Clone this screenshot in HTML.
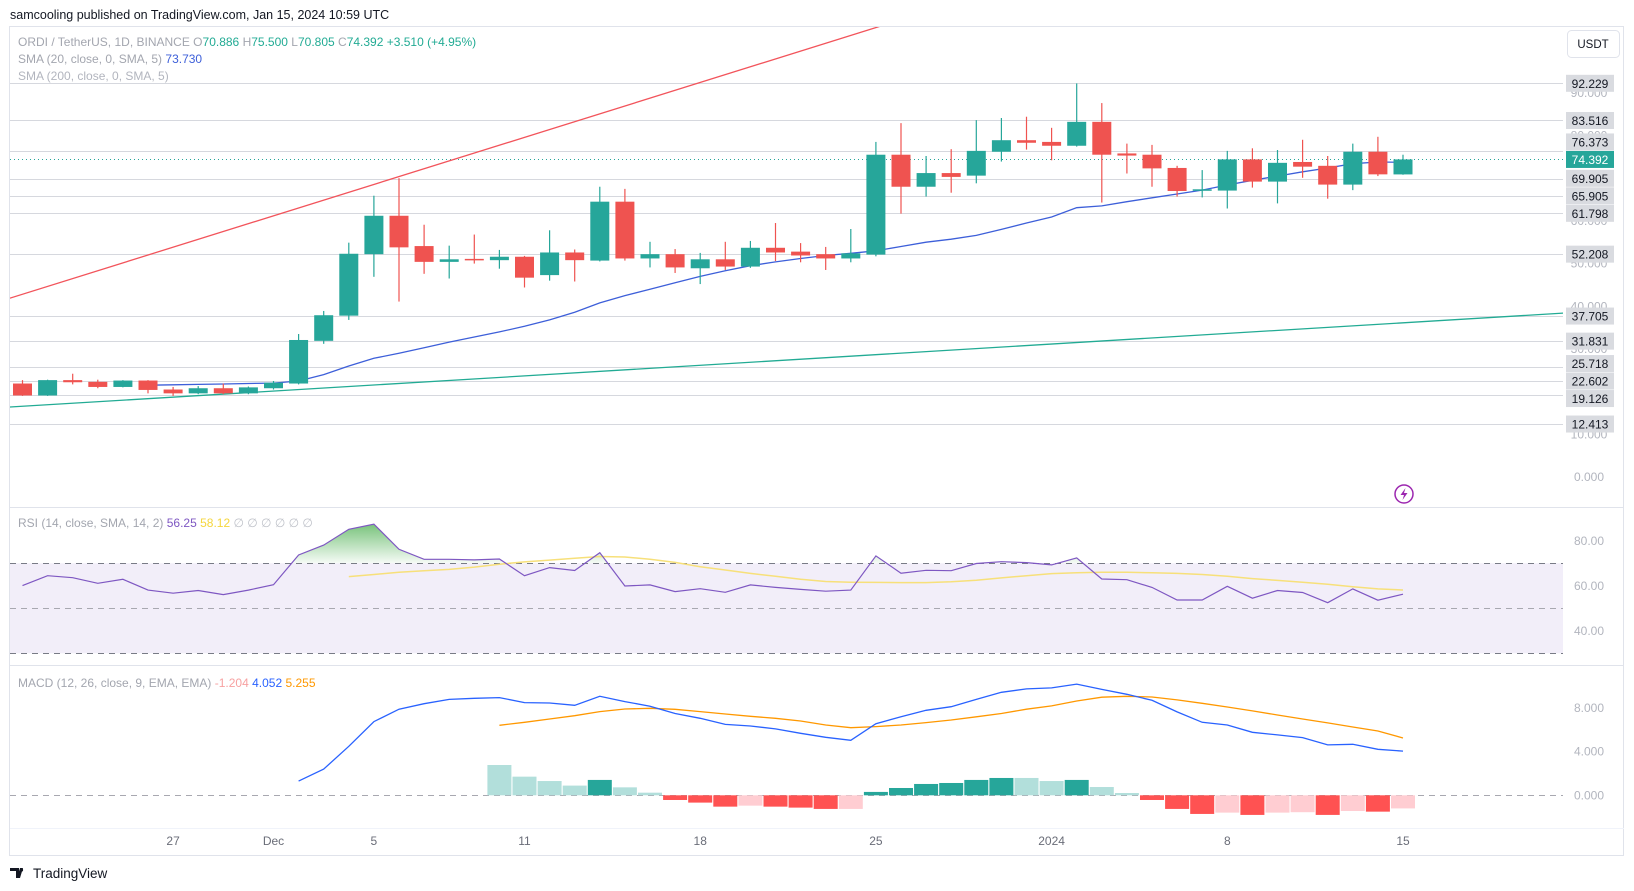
<!DOCTYPE html>
<html><head><meta charset="utf-8">
<style>
html,body{margin:0;padding:0;background:#fff;}
svg{display:block;font-family:"Liberation Sans",Arial,sans-serif;}
</style></head>
<body>
<svg id="chart" width="1634" height="891" viewBox="0 0 1634 891" xmlns="http://www.w3.org/2000/svg">
  <defs>
    <clipPath id="mainClip"><rect x="10" y="27" width="1553" height="480"/></clipPath>
    <clipPath id="rsiClip"><rect x="10" y="508" width="1553" height="157"/></clipPath>
    <clipPath id="macdClip"><rect x="10" y="666" width="1553" height="162"/></clipPath>
    <linearGradient id="obGrad" x1="0" y1="0" x2="0" y2="1">
      <stop offset="0" stop-color="#4caf50" stop-opacity="0.75"/>
      <stop offset="1" stop-color="#4caf50" stop-opacity="0.05"/>
    </linearGradient>
  </defs>
  <text x="10" y="19" font-size="12.5" fill="#131722">samcooling published on TradingView.com, Jan 15, 2024 10:59 UTC</text>
  <rect x="9.5" y="26.5" width="1614" height="829" fill="#fff" stroke="#e0e3eb"/>
  <rect x="10" y="508" width="1553" height="157" fill="#fff"/>
  <line x1="10" y1="507.5" x2="1624" y2="507.5" stroke="#e0e3eb"/>
  <line x1="10" y1="665.5" x2="1624" y2="665.5" stroke="#e0e3eb"/>
  <line x1="10" y1="828.5" x2="1624" y2="828.5" stroke="#f0f3fa"/>
  <g id="gMain"></g>
  <g id="gRsi"></g>
  <g id="gMacd"></g>
  <g id="gAxis"></g>
  <text x="18" y="46" font-size="12" fill="#a3a6af">ORDI / TetherUS, 1D, BINANCE  <tspan fill="#a3a6af">O</tspan><tspan fill="#22ab94">70.886</tspan>  <tspan fill="#a3a6af">H</tspan><tspan fill="#22ab94">75.500</tspan>  <tspan fill="#a3a6af">L</tspan><tspan fill="#22ab94">70.805</tspan>  <tspan fill="#a3a6af">C</tspan><tspan fill="#22ab94">74.392  +3.510 (+4.95%)</tspan></text>
  <text x="18" y="63" font-size="12" fill="#a3a6af">SMA (20, close, 0, SMA, 5)  <tspan fill="#3d5fd9">73.730</tspan></text>
  <text x="18" y="80" font-size="12" fill="#b2b5be">SMA (200, close, 0, SMA, 5)</text>
  <text x="18" y="527" font-size="12" fill="#a3a6af">RSI (14, close, SMA, 14, 2)  <tspan fill="#7e57c2">56.25</tspan>  <tspan fill="#f5d63d">58.12</tspan>  <tspan fill="#c0c3ca">∅  ∅  ∅  ∅  ∅  ∅</tspan></text>
  <text x="18" y="687" font-size="12" fill="#a3a6af">MACD (12, 26, close, 9, EMA, EMA)  <tspan fill="#f7a1a1">-1.204</tspan>  <tspan fill="#2962ff">4.052</tspan>  <tspan fill="#ff9800">5.255</tspan></text>
  <g>
    <rect x="1567.5" y="30.5" width="52" height="27" rx="4" fill="#fff" stroke="#e0e3eb"/>
    <text x="1593" y="48" font-size="11.5" fill="#131722" text-anchor="middle">USDT</text>
  </g>
  <g>
    <circle cx="1404" cy="494" r="9" fill="#fff" stroke="#9c27b0" stroke-width="1.5"/>
    <path d="M1405.5 488 L1400.5 495 L1404 495 L1402.5 500 L1407.5 493 L1404 493 Z" fill="#9c27b0"/>
  </g>
  <g>
    <path d="M10 868 h9 v10 h-3 v-7 h-6 z M20 868 h3 l-3 10 h-3 z" fill="#131722"/>
    <circle cx="21.5" cy="870" r="1.6" fill="#131722"/>
    <text x="33" y="878" font-size="13.5" fill="#131722">TradingView</text>
  </g>
</svg>
<script>
// ---------- data ----------
const dayLabels = ["27","Dec","5","11","18","25","2024","8","15"];
const dayLabelIdx = [6,10,14,20,27,34,41,48,55];
const opens  = [21.9,19.1,22.7,22.3,21.1,22.6,20.5,19.6,20.8,19.6,20.8,21.9,31.9,37.8,52.2,61.2,54.1,50.4,51.1,50.8,51.6,47.3,52.6,50.7,64.5,51.2,52.2,48.9,51.0,49.3,53.7,52.8,52.2,51.2,52.1,75.5,68.0,71.2,70.6,76.2,78.9,78.5,77.6,83.2,75.8,75.5,72.4,67.2,67.1,74.4,69.2,73.8,72.9,68.5,76.2,70.886];
const highs  = [22.7,22.8,24.2,22.8,22.7,22.7,21.1,21.3,21.9,21.2,22.5,33.5,38.9,54.9,65.9,70.0,59.1,54.2,56.8,53.2,51.8,57.8,53.3,68.0,67.5,55.1,53.4,52.5,55.1,55.3,59.5,54.8,53.9,58.1,78.5,82.9,75.2,76.8,83.6,84.1,84.4,81.8,92.2,87.6,78.1,77.8,72.9,71.9,76.4,77.0,76.6,79.0,75.2,78.1,79.7,75.5];
const lows   = [19.0,19.0,21.7,20.8,21.0,19.6,19.0,19.4,19.4,19.4,20.5,21.7,31.2,36.8,46.9,41.1,47.6,46.5,50.0,48.8,44.4,46.0,45.8,50.5,50.7,49.1,47.8,45.2,48.5,49.0,50.6,50.3,48.5,50.3,51.7,61.7,65.7,66.6,68.8,73.9,76.7,74.2,77.4,64.3,71.1,68.0,65.7,65.5,62.9,67.8,64.1,70.1,65.2,67.2,70.5,70.805];
const closes = [19.1,22.7,22.2,21.1,22.6,20.4,19.6,20.8,19.6,21.0,22.1,32.1,37.9,52.3,61.2,53.8,50.4,51.0,50.8,51.6,46.7,52.6,50.8,64.5,51.2,52.2,49.1,51.0,49.3,53.7,52.6,51.9,51.2,52.4,75.5,68.0,71.2,70.3,76.4,78.9,78.3,77.6,83.2,75.5,75.3,72.3,67.0,67.4,74.4,69.2,73.6,72.7,68.5,76.2,70.9,74.392];
const smaStart = 5;
const sma20 = [21.5,21.6,21.7,21.8,21.9,22.0,22.5,24.0,26.0,27.8,29.0,30.3,31.6,32.8,34.0,35.3,36.8,38.6,40.8,42.5,44.0,45.5,47.0,48.3,49.5,50.4,51.2,51.9,52.4,53.0,54.0,55.0,55.7,56.6,58.0,59.5,60.9,63.1,63.5,64.5,65.4,66.3,67.2,68.4,69.5,70.5,71.5,72.4,73.4,73.8,73.73];
const levelPrices = [92.229,83.516,76.373,69.905,65.905,61.798,52.208,37.705,31.831,25.718,22.602,19.126,12.413];
const priceTicks = [90,80,60,50,40,30,10,0];
const lastPrice = 74.392;
const redTrendIdx = [-0.5,34.2];
const redTrendPrice = [41.9,105.65];
const greenTrendIdx = [-0.5,61.4];
const greenTrendPrice = [16.4,38.4];
const rsi = [60.1,64.5,63.6,61.1,62.9,58.1,56.7,57.9,56.1,58.1,60.5,73.7,78.1,85.1,87.4,76.2,71.8,71.8,71.5,71.9,64.5,68.1,66.8,74.7,59.9,60.4,57.4,58.7,57.1,60.4,59.3,58.4,57.6,58.1,73.3,65.6,66.9,66.7,69.9,70.7,70.3,69.3,72.4,63.0,62.7,59.3,53.7,53.7,59.8,54.5,57.9,57.0,52.5,58.6,53.6,56.25];
const rsiSmaStart = 13;
const rsiSma = [64.1,65,66,66.7,67.3,68.3,69.6,70.6,71.4,72.2,73,72.8,71.8,70.4,68.5,67,65.5,64.2,62.9,61.9,61.6,61.5,61.4,61.4,61.8,62.5,63.5,64.5,65.4,65.8,66,66,65.8,65.5,65,64.2,63.2,62.4,61.6,60.7,59.6,58.6,58.12];
const rsiTicks = [80,60,40];
const rsiBands = [70,50,30];
const macdStart = 11;
const macdLine = [1.3,2.4,4.5,6.76,7.9,8.4,8.8,8.9,8.96,8.5,8.47,8.26,9.08,8.6,8.17,7.5,7.06,6.5,6.36,6.09,5.69,5.32,5.05,6.57,7.2,7.8,8.13,8.8,9.45,9.76,9.85,10.2,9.72,9.27,8.72,7.65,6.7,6.45,5.78,5.54,5.29,4.62,4.68,4.22,4.052];
const signalStart = 19;
const signalLine = [6.42,6.7,7.0,7.3,7.68,7.92,7.98,7.89,7.68,7.46,7.25,7.06,6.82,6.45,6.2,6.3,6.45,6.67,6.91,7.2,7.5,7.9,8.2,8.65,9.0,9.08,9.02,8.75,8.44,8.1,7.74,7.37,7.0,6.64,6.27,5.9,5.255];
const histStart = 19;
const histValues = [2.78,1.71,1.31,0.89,1.41,0.73,0.24,-0.43,-0.67,-1.04,-0.95,-1.04,-1.13,-1.25,-1.25,0.31,0.67,1.04,1.13,1.41,1.59,1.59,1.31,1.41,0.76,0.21,-0.43,-1.25,-1.71,-1.59,-1.8,-1.59,-1.55,-1.8,-1.44,-1.5,-1.204];
const macdTicks = [8,4,0];

// ---------- scales ----------
const NS = "http://www.w3.org/2000/svg";
const X0 = 22.5, DX = 25.1;
function xOf(i){ return X0 + i*DX; }
function yPrice(v){ return 83.3 + (92.229 - v)*4.269; }
function yRsi(v){ return 608.3 - (v-50)*2.25; }
function yMacd(v){ return 795.3 - v*10.9; }
function mk(tag, attrs, parent){
  const e = document.createElementNS(NS, tag);
  for (const k in attrs) e.setAttribute(k, attrs[k]);
  parent.appendChild(e);
  return e;
}
const gMain = document.getElementById('gMain');
const gRsi = document.getElementById('gRsi');
const gMacd = document.getElementById('gMacd');
const gAxis = document.getElementById('gAxis');
const UP = "#26a69a", DOWN = "#ef5350";

// ---------- main pane ----------
levelPrices.forEach(function(p){
  const y = Math.round(yPrice(p)) + 0.5;
  const ln = mk('line', {x1:10, x2:1563, y1:y, y2:y, stroke:'#d6d8de', 'stroke-width':1}, gMain);
  
  
});
const mc = mk('g', {'clip-path':'url(#mainClip)'}, gMain);


const pl = mk('line', {x1:10, x2:1563, y1:yPrice(lastPrice), y2:yPrice(lastPrice), stroke:'#26a69a', 'stroke-width':1, 'stroke-dasharray':'1 3'}, mc);


const rt = mk('line', {x1:xOf(redTrendIdx[0]), y1:yPrice(redTrendPrice[0]), x2:xOf(redTrendIdx[1]), y2:yPrice(redTrendPrice[1]), stroke:'#f2545b', 'stroke-width':1.3}, mc);


const gt = mk('line', {x1:xOf(greenTrendIdx[0]), y1:yPrice(greenTrendPrice[0]), x2:xOf(greenTrendIdx[1]), y2:yPrice(greenTrendPrice[1]), stroke:'#22ab94', 'stroke-width':1.3}, mc);


let smaPts = sma20.map(function(v,k){ return xOf(smaStart+k).toFixed(1)+','+yPrice(v).toFixed(1); }).join(' ');
const smaL = mk('polyline', {points:smaPts, fill:'none', stroke:'#3d5fd9', 'stroke-width':1.3}, mc);


for (let i=0;i<closes.length;i++){
  const up = closes[i] >= opens[i];
  const col = up ? UP : DOWN;
  const x = xOf(i);
  const g = mk('g', {}, mc);
  
  
  mk('line', {x1:x, x2:x, y1:yPrice(highs[i]), y2:yPrice(lows[i]), stroke:col, 'stroke-width':1.2}, g);
  const top = yPrice(Math.max(opens[i], closes[i]));
  const bot = yPrice(Math.min(opens[i], closes[i]));
  mk('rect', {x:x-9.5, y:top, width:19, height:Math.max(1.5, bot-top), fill:col}, g);
}
// price axis ticks
priceTicks.forEach(function(p){
  const t = mk('text', {x:1589, y:yPrice(p)+4, 'font-size':12, fill:'#b2b5be', 'text-anchor':'middle'}, gAxis);
  t.textContent = p.toFixed(3);
  
  
});
// label positions with collision avoidance (last price fixed)
const GAP = 17.5;
const lastY = yPrice(lastPrice);
let labs = levelPrices.map(function(p){ return {p:p, y:yPrice(p), fixed:false}; });
labs.push({p:lastPrice, y:lastY, fixed:true});
labs.sort(function(a,b){ return a.y-b.y; });
for (let iter=0; iter<40; iter++){
  for (let k=0;k<labs.length-1;k++){
    const a = labs[k], b = labs[k+1];
    const d = b.y - a.y;
    if (d < GAP){
      const push = GAP - d;
      if (a.fixed){ b.y += push; }
      else if (b.fixed){ a.y -= push; }
      else { a.y -= push/2; b.y += push/2; }
    }
  }
}
labs.forEach(function(L){
  if (L.fixed) return;
  const y = L.y;
  const b = mk('g', {}, gAxis);
  
  
  mk('rect', {x:1566, y:y-8.5, width:48, height:17, fill:'#d9dbe0'}, b);
  const t = mk('text', {x:1590, y:y+4.5, 'font-size':12, fill:'#131722', 'text-anchor':'middle'}, b);
  t.textContent = L.p.toFixed(3);
});
const lp = mk('g', {}, gAxis);


mk('rect', {x:1566, y:lastY-8.5, width:48, height:17, fill:'#26a69a'}, lp);
const lpt = mk('text', {x:1590, y:lastY+4.5, 'font-size':12, fill:'#fff', 'text-anchor':'middle'}, lp);
lpt.textContent = lastPrice.toFixed(3);

// ---------- RSI pane ----------
const rc = mk('g', {'clip-path':'url(#rsiClip)'}, gRsi);


const band = mk('rect', {x:10, y:yRsi(rsiBands[0]), width:1553, height:yRsi(rsiBands[2])-yRsi(rsiBands[0]), fill:'#7e57c2', 'fill-opacity':0.1}, rc);


rsiBands.forEach(function(b, k){
  const y = Math.round(yRsi(b))+0.5;
  const l = mk('line', {x1:10, x2:1563, y1:y, y2:y, stroke: k===1 ? '#a8a8b0' : '#787b86', 'stroke-width':1, 'stroke-dasharray': '6 5'}, rc);
  
  
});
let obPath = '';
for (let i=0;i<rsi.length-1;i++){
  const a = rsi[i], b = rsi[i+1];
  if (a<=70 && b<=70) continue;
  let xa = xOf(i), xb = xOf(i+1), va = a, vb = b;
  if (a<70){ xa = xOf(i) + (70-a)/(b-a)*DX; va = 70; }
  if (b<70){ xb = xOf(i) + (70-a)/(b-a)*DX; vb = 70; }
  obPath += 'M'+xa+','+yRsi(70)+' L'+xa+','+yRsi(va)+' L'+xb+','+yRsi(vb)+' L'+xb+','+yRsi(70)+' Z ';
}
const ob = mk('path', {d:obPath, fill:'url(#obGrad)'}, rc);


const rsiSmaL = mk('polyline', {points: rsiSma.map(function(v,k){return xOf(rsiSmaStart+k).toFixed(1)+','+yRsi(v).toFixed(1);}).join(' '), fill:'none', stroke:'#f7e07a', 'stroke-width':1.5}, rc);


const rsiL = mk('polyline', {points: rsi.map(function(v,i){return xOf(i).toFixed(1)+','+yRsi(v).toFixed(1);}).join(' '), fill:'none', stroke:'#7e57c2', 'stroke-width':1.2}, rc);


rsiTicks.forEach(function(v){
  const t = mk('text', {x:1589, y:yRsi(v)+4, 'font-size':12, fill:'#b2b5be', 'text-anchor':'middle'}, gAxis);
  t.textContent = v.toFixed(2);
  
  
});

// ---------- MACD pane ----------
const cm = mk('g', {'clip-path':'url(#macdClip)'}, gMacd);


const zl = mk('line', {x1:10, x2:1563, y1:Math.round(yMacd(0))+0.5, y2:Math.round(yMacd(0))+0.5, stroke:'#a8a8b0', 'stroke-dasharray':'6 5'}, cm);


for (let k=0;k<histValues.length;k++){
  const v = histValues[k];
  const prev = k>0 ? histValues[k-1] : null;
  let col;
  if (v>=0) col = (prev!==null && v>prev) ? '#26a69a' : '#b2dfdb';
  else col = (prev!==null && v<prev) ? '#ff5252' : '#ffcdd2';
  const x = xOf(histStart+k);
  const y0 = yMacd(0), y1 = yMacd(v);
  const r = mk('rect', {x:x-12, y:Math.min(y0,y1), width:24, height:Math.max(1,Math.abs(y1-y0)), fill:col}, cm);
  
  
}
const sigL = mk('polyline', {points: signalLine.map(function(v,k){return xOf(signalStart+k).toFixed(1)+','+yMacd(v).toFixed(1);}).join(' '), fill:'none', stroke:'#ff9800', 'stroke-width':1.3}, cm);


const macL = mk('polyline', {points: macdLine.map(function(v,k){return xOf(macdStart+k).toFixed(1)+','+yMacd(v).toFixed(1);}).join(' '), fill:'none', stroke:'#2962ff', 'stroke-width':1.3}, cm);


macdTicks.forEach(function(v){
  const t = mk('text', {x:1589, y:yMacd(v)+4, 'font-size':12, fill:'#b2b5be', 'text-anchor':'middle'}, gAxis);
  t.textContent = v.toFixed(3);
  
  
});

// ---------- time axis ----------
dayLabels.forEach(function(lbl, k){
  const t = mk('text', {x:xOf(dayLabelIdx[k]), y:845, 'font-size':12, fill:'#6a6d78', 'text-anchor':'middle'}, gAxis);
  t.textContent = lbl;
  
  
});
</script>
</body></html>
